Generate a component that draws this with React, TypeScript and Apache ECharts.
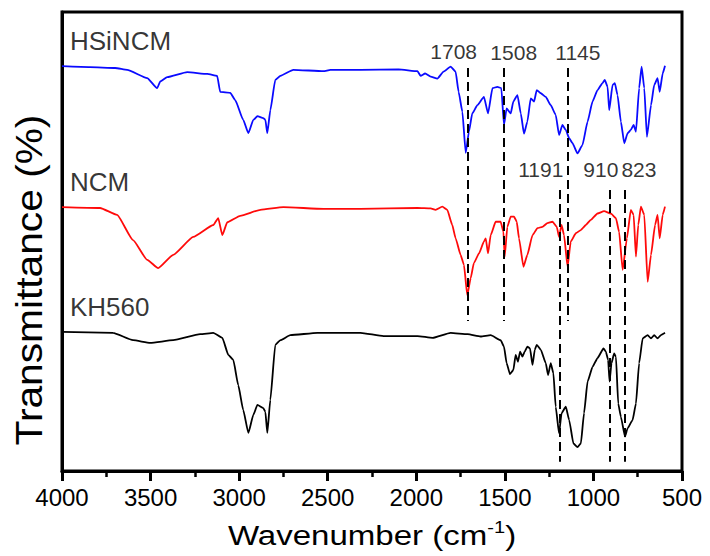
import React, { useEffect, useRef } from "react";
import * as echarts from "echarts";

// Wavenumber (cm-1) and transmittance (arbitrary offset units)
const hsincmWn = [4000,3842,3700,3632,3519,3463,3445,3406,3293,3180,3124,3107,3050,3022,2977,2948,2920,2897,2864,2852,2841,2824,2796,2767,2694,2524,2485,2315,2100,1993,1976,1950,1919,1881,1846,1806,1778,1761,1740,1721,1703,1684,1655,1618,1595,1570,1542,1520,1505,1490,1467,1452,1429,1410,1392,1373,1354,1335,1320,1297,1269,1241,1213,1194,1175,1156,1137,1118,1090,1062,1033,1005,977,949,936,920,911,892,879,864,845,826,807,789,773,760,742,728,713,698,675,657,638,626,609,596];
const hsincmT = [88.2,88.0,87.8,87.4,85.6,83.4,84.9,85.8,86.9,86.5,86.1,82.6,82.4,80.8,76.5,73.6,76.5,77.3,76.9,76.5,73.6,78.6,85.2,86.1,87.4,87.1,87.4,87.4,87.5,87.1,86.1,86.6,85.9,85.5,87.0,88.1,87.0,82.6,78.3,69.3,73.9,77.9,79.7,81.5,77.9,83.4,83.7,83.4,75.4,79.0,77.9,80.5,81.9,77.9,73.5,76.1,81.2,80.5,83.0,82.3,81.5,79.7,77.6,73.2,75.4,74.3,72.5,71.4,69.2,71.0,76.1,80.5,83.0,84.5,85.2,83.7,78.6,84.1,84.5,81.9,76.1,71.4,73.6,74.3,75.4,73.9,83.4,88.1,83.4,72.8,79.7,84.1,85.6,82.6,86.6,88.3];

const ncmWn = [4000,3785,3689,3599,3519,3457,3372,3259,3146,3118,3095,3067,2994,2880,2750,2524,2315,1993,1919,1891,1853,1825,1797,1778,1750,1731,1712,1693,1675,1646,1618,1608,1595,1580,1552,1524,1508,1501,1486,1467,1448,1433,1420,1395,1373,1344,1316,1288,1260,1231,1207,1194,1180,1166,1146,1128,1099,1071,1043,1015,977,940,902,873,855,835,811,789,773,760,747,732,713,694,675,652,638,626,609,596];
const ncmT = [57.5,57.3,55.8,50.3,46.0,44.2,47.1,51.0,53.6,55.1,51.4,54.2,55.6,56.9,57.5,57.1,57.1,57.3,57.2,56.9,57.6,56.9,53.6,50.7,47.1,44.9,38.3,42.0,45.3,47.4,50.0,50.7,47.4,51.4,54.3,54.3,52.1,46.7,53.2,55.4,55.4,54.3,50.7,44.5,47.1,51.4,52.9,53.2,54.0,54.3,53.2,51.0,53.6,51.4,44.5,50.0,51.8,52.5,53.6,54.7,56.1,56.6,56.1,55.1,52.1,43.8,50.7,56.9,55.8,46.7,53.6,57.6,55.8,41.2,47.1,53.6,55.8,50.7,55.8,57.6];

const kh560Wn = [4000,3712,3599,3502,3372,3220,3146,3095,3061,3033,3005,2977,2948,2920,2897,2864,2852,2841,2824,2796,2767,2711,2558,2315,2185,1993,1908,1806,1710,1637,1580,1524,1505,1490,1471,1452,1439,1426,1414,1401,1388,1373,1358,1344,1331,1320,1297,1269,1256,1241,1226,1213,1194,1180,1156,1137,1113,1090,1071,1053,1033,1005,977,943,930,917,909,898,883,873,860,845,822,807,779,760,742,722,694,675,657,638,619,596];
const kh560T = [30.3,30.1,28.5,27.9,28.5,29.8,30.1,29.0,25.3,24.2,18.7,13.3,8.3,12.2,14.4,13.7,12.9,8.3,15.5,27.5,28.5,29.6,30.1,30.1,29.4,29.4,29.0,30.1,29.8,29.3,29.6,28.5,27.1,23.5,21.1,22.0,25.3,23.8,26.0,24.9,26.0,27.1,26.7,23.1,26.4,27.5,26.4,23.5,20.9,23.5,21.3,14.0,8.2,12.6,14.0,11.1,6.0,5.2,6.0,12.6,19.5,22.7,24.6,26.7,26.0,24.2,19.5,23.5,25.6,24.9,14.7,11.8,7.5,9.3,11.1,14.7,23.5,28.9,29.6,28.9,29.6,28.9,29.6,30.1];

// Dashed reference lines: wavenumber, start and end transmittance
const dashWn = [1708, 1508, 1145, 1191, 910, 823];
const dashFrom = [87.8, 87.8, 87.8, 61.2, 61.2, 61.2];
const dashTo = [32.7, 32.7, 32.7, 2.0, 2.0, 2.0];

// Peak labels
const peakText = ["1708", "1508", "1145", "1191", "910", "823"];
const peakWn = [1789, 1450, 1088, 1297, 958, 743];
const peakT = [91.3, 91.1, 91.1, 65.6, 65.6, 65.6];

// Series labels
const seriesNames = ["HSiNCM", "NCM", "KH560"];
const seriesColors = ["#0a0aff", "#ff0a0a", "#000000"];
const nameWn = [3955, 3955, 3955];
const nameT = [93.7, 63.0, 35.8];

const xTicks = [500, 4000, 500];
const FONT = "'Liberation Sans', Arial, sans-serif";

const zip = (a: number[], b: number[]) => a.map((v, i) => [v, b[i]]);

export default function App() {
  const ref = useRef<HTMLDivElement>(null);
  useEffect(() => {
    document.body.style.margin = "0";
    if (!ref.current) return;
    const chart = echarts.init(ref.current, undefined, { renderer: "svg" });
    const curves = [zip(hsincmWn, hsincmT), zip(ncmWn, ncmT), zip(kh560Wn, kh560T)];
    const option: any = {
      animation: false,
      grid: {
        left: 62,
        right: 28,
        top: 12,
        bottom: 85,
        show: true,
        borderColor: "#000",
        borderWidth: 3,
        backgroundColor: "transparent",
      },
      xAxis: {
        type: "value",
        min: xTicks[0],
        max: xTicks[1],
        interval: xTicks[2],
        inverse: true,
        axisLine: { lineStyle: { color: "#000", width: 3 } },
        axisTick: { show: true, length: 10, lineStyle: { color: "#000", width: 3 } },
        minorTick: { show: true, splitNumber: 2, length: 6, lineStyle: { color: "#000", width: 2.5 } },
        splitLine: { show: false },
        minorSplitLine: { show: false },
        axisLabel: {
          fontSize: 24,
          color: "#000",
          margin: 14,
          fontFamily: FONT,
          formatter: (v: number) => String(v),
        },
      },
      yAxis: {
        type: "value",
        min: 0,
        max: 100,
        axisLine: { show: true, lineStyle: { color: "#000", width: 3 } },
        axisTick: { show: false },
        axisLabel: { show: false },
        splitLine: { show: false },
      },
      series: [
        ...curves.map((d, i) => ({
          type: "line",
          name: seriesNames[i],
          data: d,
          showSymbol: false,
          symbol: "none",
          smooth: 0.15,
          smoothMonotone: "x",
          lineStyle: { color: seriesColors[i], width: 1.8 },
          silent: true,
          z: 2,
        })),
        {
          type: "scatter",
          symbolSize: 0,
          silent: true,
          z: 5,
          data: peakText.map((t, i) => ({ name: t, value: [peakWn[i], peakT[i]] })),
          label: {
            show: true,
            position: "inside",
            formatter: (p: any) => p.name,
            fontSize: 21,
            color: "#000",
            textBorderWidth: 0,
            fontFamily: FONT,
          },
          markLine: {
            silent: true,
            symbol: ["none", "none"],
            label: { show: false },
            lineStyle: { color: "#000", width: 2, type: [9, 5] },
            data: dashWn.map((w, i) => [
              { coord: [w, dashFrom[i]] },
              { coord: [w, dashTo[i]] },
            ]),
          },
        },
        {
          type: "scatter",
          symbolSize: 0,
          silent: true,
          z: 5,
          data: seriesNames.map((t, i) => ({ name: t, value: [nameWn[i], nameT[i]] })),
          label: {
            show: true,
            position: "inside",
            align: "left",
            formatter: (p: any) => p.name,
            fontSize: 26,
            color: "#000",
            textBorderWidth: 0,
            fontFamily: FONT,
          },
        },
      ],
      graphic: [
        {
          type: "text",
          x: 372,
          y: 535,
          scaleX: 1.18,
          style: {
            text: "Wavenumber (cm{sup|-1})",
            fontSize: 28,
            fontFamily: FONT,
            fill: "#000",
            align: "center",
            verticalAlign: "middle",
            lineHeight: 32,
            rich: {
              sup: { fontSize: 17, fontFamily: FONT, verticalAlign: "top", lineHeight: 32, fill: "#000" },
            },
          },
        },
        {
          type: "text",
          x: 29,
          y: 280,
          rotation: Math.PI / 2,
          scaleX: 1.1,
          style: {
            text: "Transmittance (%)",
            fontSize: 37,
            fontFamily: FONT,
            fill: "#000",
            align: "center",
            verticalAlign: "middle",
          },
        },
      ],
    };
    chart.setOption(option);
    return () => chart.dispose();
  }, []);
  return <div ref={ref} style={{ width: 710, height: 556 }} />;
}
